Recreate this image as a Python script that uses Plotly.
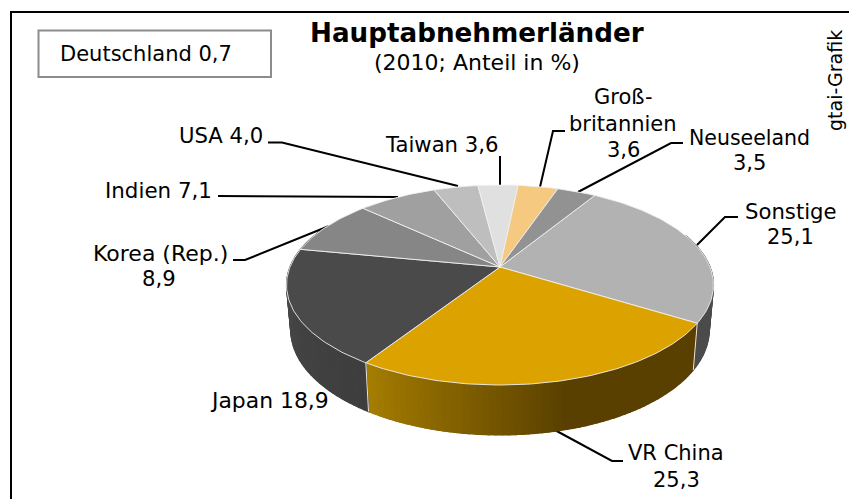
import math
import plotly.graph_objects as go

labels = ["Sonstige", "VR China", "Japan", "Korea (Rep.)", "Indien", "USA", "Taiwan", "Großbritannien", "Neuseeland"]
shares = [25.1, 25.3, 18.9, 8.9, 7.1, 4.0, 3.6, 3.6, 3.5]
top_colors = ["#b2b2b2", "#dca300", "#4a4a4a", "#868686", "#a0a0a0", "#bebebe", "#e0e0e0", "#f5c97f", "#929292"]
START_DEG = 31.4

CX, CY, A, B, P = 500.0, 267.0, 210.0, 96.76, 0.18
LOW_SX, LOW_SY, LOW_D = 0.98, 1.05, 44.0
PAGE_MARGIN = 8  # the page body offsets the figure


def rim(deg):
    t = math.radians(deg)
    X, Y = math.sin(t), -math.cos(t)
    w = 1 - P * Y
    return CX + A * X / w, CY + B * Y / w


def low(deg):
    x, y = rim(deg)
    return CX + LOW_SX * (x - CX), CY + LOW_SY * (y - CY) + LOW_D


def mix(c1, c2, f):
    return "rgb(%d,%d,%d)" % tuple(round(a + (b - a) * f) for a, b in zip(c1, c2))


def wall_color(i, deg, a0, a1):
    if i == 1:
        f = max(0.0, min(1.0, (deg - 165) / (a1 - 165)))
        return mix((0x5a, 0x40, 0x00), (0xa6, 0x7e, 0x00), f)
    if i == 2:
        f = max(0.0, min(1.0, (deg - a0) / (a1 - a0)))
        return mix((0x3e, 0x3e, 0x3e), (0x4a, 0x4a, 0x4a), f)
    return "#4c4c4c"


fig = go.Figure()

# leader lines go under the pie, so they end cleanly at its edge
leaders = [
    [(268, 142.5), (282, 142.5), (458, 186)],
    [(218, 196), (398, 197)],
    [(233, 260), (245, 260), (329, 226)],
    [(500, 156), (500, 185)],
    [(565, 131), (553, 131), (540, 187)],
    [(683, 143), (671, 143), (578, 192)],
    [(738, 217), (725, 217), (697, 245)],
    [(623, 461), (612, 461), (553, 429)],
]
for pts in leaders:
    fig.add_trace(go.Scatter(x=[q[0] for q in pts], y=[q[1] for q in pts], mode="lines",
                             line=dict(color="#000000", width=2), hoverinfo="skip", showlegend=False))

spans = []
ang = START_DEG
for s in shares:
    spans.append((ang, ang + s * 3.6))
    ang += s * 3.6

VIS0, VIS1 = 70.0, 295.0
for i, (a0, a1) in enumerate(spans):
    lo, hi = max(a0, VIS0), min(a1, VIS1)
    if lo >= hi:
        continue
    n = max(1, int((hi - lo) / 1.5))
    # solid base under the bands, so no white shows through their edges
    base_angles = [lo + (hi - lo) * k / n for k in range(n + 1)]
    base = [rim(d) for d in base_angles] + [low(d) for d in reversed(base_angles)]
    base.append(base[0])
    base_col = wall_color(i, (lo + hi) / 2, a0, a1)
    fig.add_trace(go.Scatter(x=[q[0] for q in base], y=[q[1] for q in base], mode="lines",
                             fill="toself", fillcolor=base_col, line=dict(color=base_col, width=0.5),
                             hoverinfo="skip", showlegend=False))
    for k in range(n):
        d0 = lo + (hi - lo) * k / n
        d1 = lo + (hi - lo) * (k + 1) / n
        p = [rim(d0), rim(d1), low(d1), low(d0), rim(d0)]
        col = wall_color(i, (d0 + d1) / 2, a0, a1)
        fig.add_trace(go.Scatter(x=[q[0] for q in p], y=[q[1] for q in p], mode="lines",
                                 fill="toself", fillcolor=col, line=dict(color=col, width=1.2),
                                 hoverinfo="skip", showlegend=False))
    if a0 > VIS0:
        p = [rim(a0), low(a0)]
        fig.add_trace(go.Scatter(x=[q[0] for q in p], y=[q[1] for q in p], mode="lines",
                                 line=dict(color="#ece6d6", width=1), hoverinfo="skip", showlegend=False))

for (a0, a1), col, name, s in zip(spans, top_colors, labels, shares):
    n = max(4, int(a1 - a0))
    pts = [(CX, CY)] + [rim(a0 + (a1 - a0) * k / n) for k in range(n + 1)] + [(CX, CY)]
    fig.add_trace(go.Scatter(x=[q[0] for q in pts], y=[q[1] for q in pts], mode="lines",
                             fill="toself", fillcolor=col, line=dict(color="rgba(240,240,240,0.9)", width=1),
                             name=name, text=f"{name} {s}", hoverinfo="text", showlegend=False))

FONT = "DejaVu Sans"
texts = [
    ("<b>Hauptabnehmerländer</b>", 477, 33, 26.2),
    ("(2010; Anteil in %)", 477, 62, 22),
    ("Deutschland 0,7", 146, 54, 21),
    ("USA 4,0", 220.5, 135, 21.2),
    ("Indien 7,1", 158.5, 190, 21.4),
    ("Korea (Rep.)", 160, 253, 22),
    ("8,9", 159, 278, 21.2),
    ("Taiwan 3,6", 441, 144, 21.2),
    ("Groß-", 623, 97, 21),
    ("britannien", 623, 124, 21),
    ("3,6", 623, 150, 21),
    ("Neuseeland", 749, 138, 20.5),
    ("3,5", 749, 163, 21),
    ("Sonstige", 790.5, 211, 21.2),
    ("25,1", 790, 237, 21),
    ("VR China", 675.5, 453, 21),
    ("25,3", 676, 480, 21),
    ("Japan 18,9", 269.5, 400, 21.9),
]
annotations = [dict(x=x, y=y, text=t, showarrow=False, xanchor="center", yanchor="middle",
                    font=dict(family=FONT, size=sz, color="#000000")) for t, x, y, sz in texts]
annotations.append(dict(x=835, y=81, text="gtai-Grafik", textangle=-90, showarrow=False,
                        xanchor="center", yanchor="middle", font=dict(family=FONT, size=19, color="#000000")))

shapes = [
    dict(type="rect", x0=38.5, y0=30.5, x1=271, y1=77, line=dict(color="#8c8c8c", width=2), fillcolor="#ffffff", layer="below"),
    dict(type="rect", x0=11, y0=12, x1=900, y1=560, line=dict(color="#000000", width=2), fillcolor="rgba(0,0,0,0)", layer="below"),
]

fig.update_layout(
    width=857 - PAGE_MARGIN, height=499 - PAGE_MARGIN, margin=dict(l=0, r=0, t=0, b=0),
    paper_bgcolor="#ffffff", plot_bgcolor="#ffffff", showlegend=False,
    xaxis=dict(range=[PAGE_MARGIN, 857], visible=False, fixedrange=True),
    yaxis=dict(range=[499, PAGE_MARGIN], visible=False, fixedrange=True),
    annotations=annotations, shapes=shapes,
)
fig.write_html("out.html")
